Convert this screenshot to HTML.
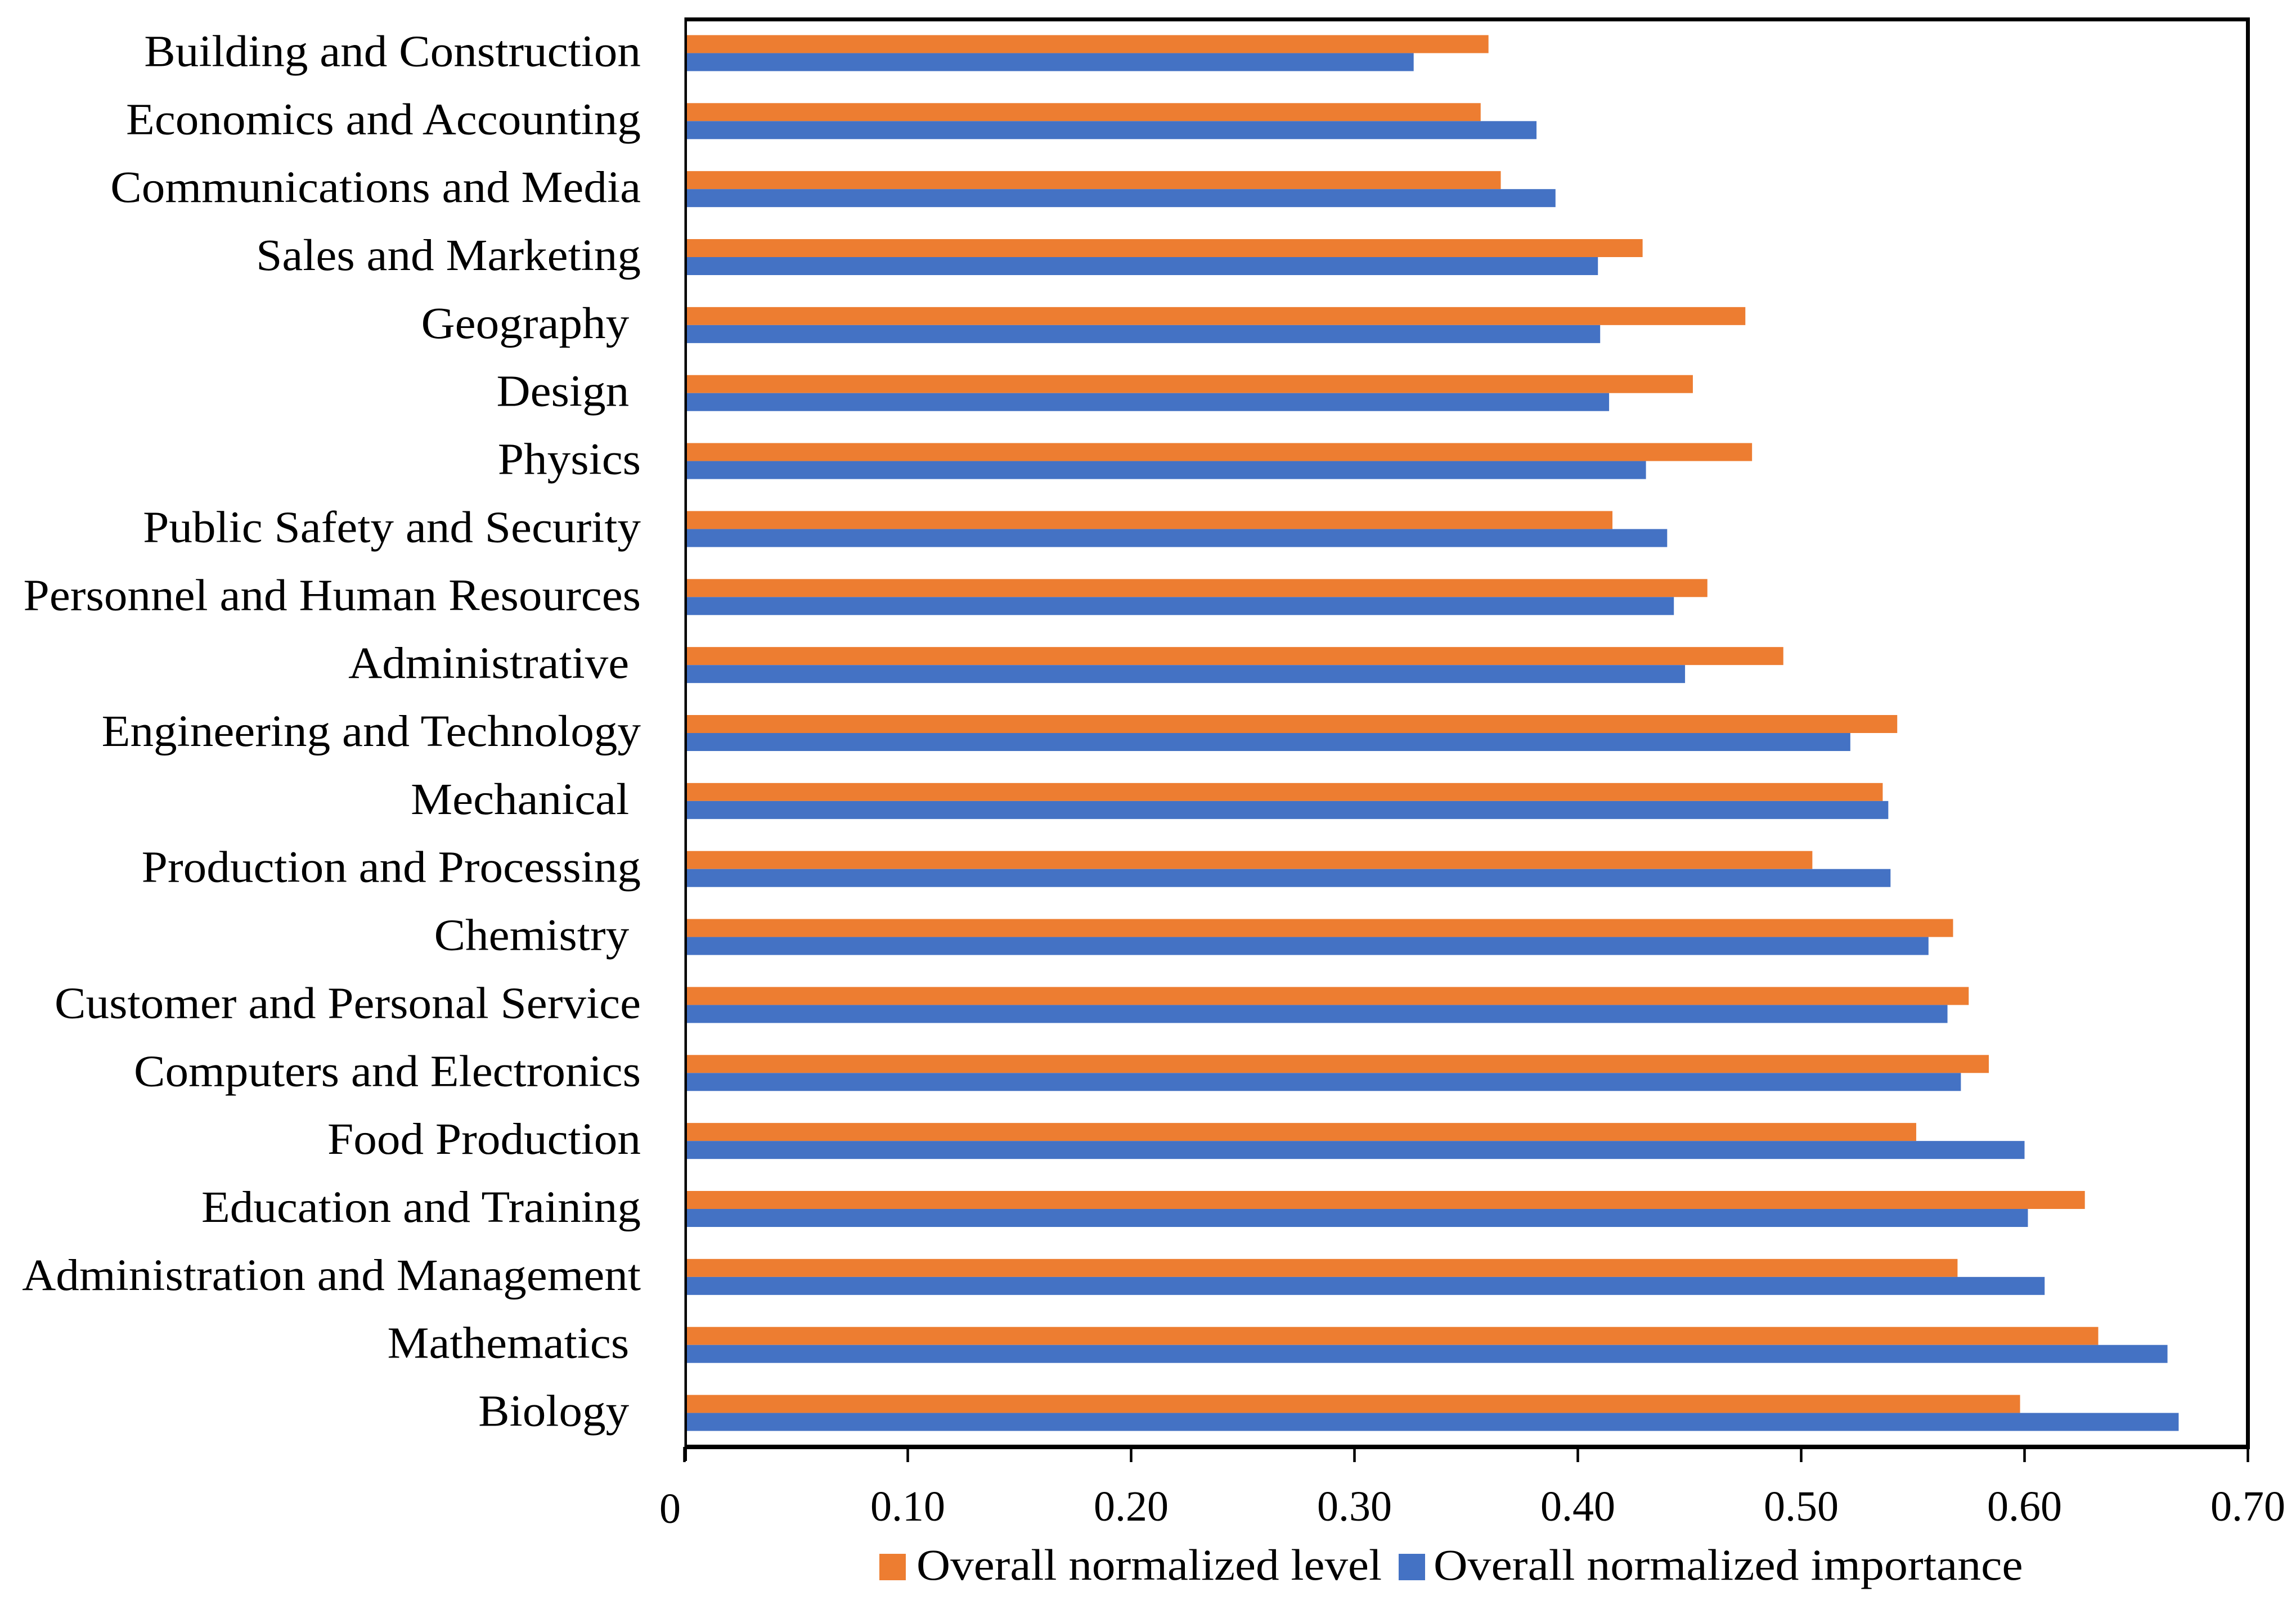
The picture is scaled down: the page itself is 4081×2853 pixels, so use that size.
<!DOCTYPE html>
<html lang="en">
<head>
<meta charset="utf-8">
<title>Overall normalized level and importance by knowledge area</title>
<style>
html,body{margin:0;padding:0;background:#fff;width:4081px;height:2853px;overflow:hidden}
svg{display:block}
text{font-family:"Liberation Serif",serif;fill:#000;white-space:pre}
</style>
</head>
<body>
<svg id="chart" xmlns="http://www.w3.org/2000/svg" width="4081" height="2853" viewBox="0 0 4081 2853">
  <g id="bars"></g>
  <g id="cat-labels"></g>
  <g id="ticks"></g>
  <rect x="1217" y="31" width="2782" height="7" fill="#000"/>
  <rect x="3992" y="31" width="7" height="2545" fill="#000"/>
  <rect x="1216.5" y="31" width="4.5" height="2566" fill="#000"/>
  <rect x="1217" y="2568" width="2782" height="8" fill="#000"/>
  <g>
    <rect x="1563" y="2762" width="47" height="47" fill="#ED7D31"/>
    <text transform="translate(1629,2808) scale(1.067,1)" font-size="78">Overall normalized level</text>
    <rect x="2486" y="2762" width="47" height="47" fill="#4472C4"/>
    <text transform="translate(2548,2808) scale(1.075,1)" font-size="78">Overall normalized importance</text>
  </g>
</svg>
<script>
const categories = ["Building and Construction","Economics and Accounting","Communications and Media","Sales and Marketing","Geography ","Design ","Physics","Public Safety and Security","Personnel and Human Resources","Administrative ","Engineering and Technology","Mechanical ","Production and Processing","Chemistry ","Customer and Personal Service","Computers and Electronics","Food Production","Education and Training","Administration and Management","Mathematics ","Biology "];
const levelValues = [0.360,0.3565,0.3655,0.429,0.475,0.4515,0.478,0.4155,0.458,0.492,0.543,0.5365,0.505,0.568,0.575,0.584,0.5515,0.627,0.570,0.633,0.598];
const importanceValues = [0.3265,0.3815,0.390,0.409,0.410,0.414,0.4305,0.440,0.443,0.448,0.522,0.539,0.540,0.557,0.5655,0.5715,0.600,0.6015,0.609,0.664,0.669];
const tickValues = [0,0.10,0.20,0.30,0.40,0.50,0.60,0.70];
const tickLabels = ["0","0.10","0.20","0.30","0.40","0.50","0.60","0.70"];

const NS = "http://www.w3.org/2000/svg";
const plotTop = 34, plotBottom = 2572, barH = 32;
const bandH = (plotBottom - plotTop) / categories.length;
function xScale(v) { return 1216.5 + 3970 * v; }
function yCenter(i) { return plotTop + bandH * (i + 0.5); }

function make(tag, parent) {
  const el = document.createElementNS(NS, tag);
  document.getElementById(parent).appendChild(el);
  return el;
}
function place(el, x, y, w, h, fill) {
  el.setAttribute("x", x);
  el.setAttribute("y", y);
  el.setAttribute("width", w);
  el.setAttribute("height", h);
  el.setAttribute("fill", fill);
}

categories.forEach(function (name, i) {
  const cy = yCenter(i);
  const slug = name.trim().toLowerCase().replace(/\s+/g, "-");

  const level = make("rect", "bars");
  
  
  place(level, xScale(0), cy - barH, xScale(levelValues[i]) - xScale(0), barH, "#ED7D31");

  const importance = make("rect", "bars");
  
  
  place(importance, xScale(0), cy, xScale(importanceValues[i]) - xScale(0), barH, "#4472C4");

  const label = make("text", "cat-labels");
  
  
  label.setAttribute("transform", "translate(1139," + (cy + 23) + ") scale(1.04,1)");
  label.setAttribute("font-size", "80");
  label.setAttribute("text-anchor", "end");
  label.textContent = name;
});

tickValues.forEach(function (v, i) {
  const tick = make("rect", "ticks");
  
  
  place(tick, xScale(v) - 2.25, 2572, 4.5, 27, "#000");

  const t = make("text", "ticks");
  
  
  const isZero = v === 0;
  t.setAttribute("x", isZero ? 1191 : xScale(v));
  t.setAttribute("y", isZero ? 2707 : 2703);
  t.setAttribute("font-size", "76");
  t.setAttribute("text-anchor", "middle");
  t.textContent = tickLabels[i];
});
</script>
</body>
</html>
